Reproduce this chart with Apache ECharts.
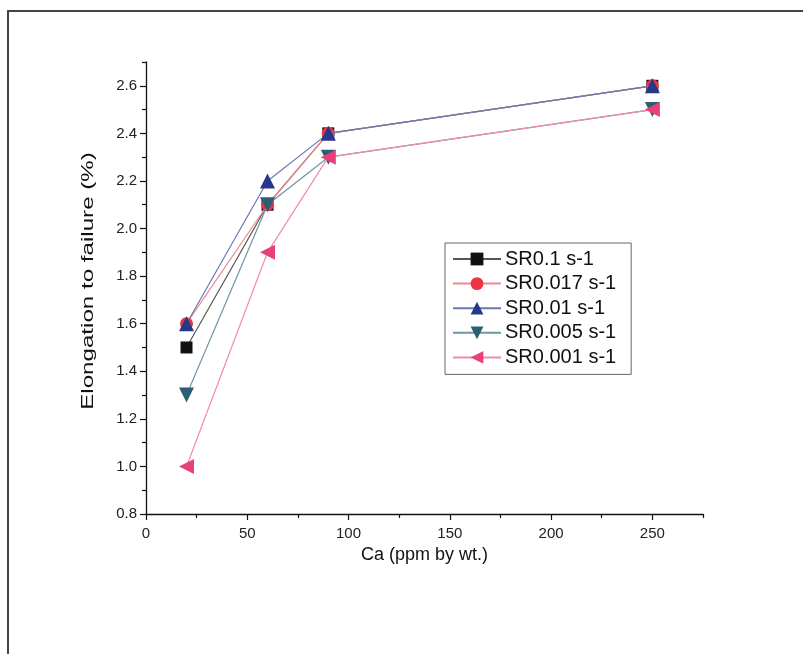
<!DOCTYPE html>
<html>
<head>
<meta charset="utf-8">
<script src="https://cdn.jsdelivr.net/npm/echarts@6/dist/echarts.min.js"></script>
<style>html,body{margin:0;padding:0;background:#fff;}#c{width:803px;height:654px;}</style>
</head>
<body>
<div id="c"></div>
<script>
const caPPM = [20, 60, 90, 250];
const sr01 = [1.5, 2.1, 2.4, 2.6];
const sr0017 = [1.6, 2.1, 2.4, 2.6];
const sr001 = [1.6, 2.2, 2.4, 2.6];
const sr0005 = [1.3, 2.1, 2.3, 2.5];
const sr0001 = [1.0, 1.9, 2.3, 2.5];
const seriesNames = ['SR0.1 s-1', 'SR0.017 s-1', 'SR0.01 s-1', 'SR0.005 s-1', 'SR0.001 s-1'];
const xMajorTicks = [0, 50, 100, 150, 200, 250];
const xMinorTicks = [25, 75, 125, 175, 225, 275];
const yMajorTicks = [0.8, 1.0, 1.2, 1.4, 1.6, 1.8, 2.0, 2.2, 2.4, 2.6];
const yMinorTicks = [0.9, 1.1, 1.3, 1.5, 1.7, 1.9, 2.1, 2.3, 2.5, 2.7];
const xTitle = 'Ca (ppm by wt.)';
const yTitle = 'Elongation to failure (%)';

const font = 'Liberation Sans, Arial, sans-serif';
const pair = vals => caPPM.map((x, i) => [x, vals[i]]);

const styles = [
  {data: sr01, symbol: 'rect', size: 12, color: '#111111', line: '#555555'},
  {data: sr0017, symbol: 'circle', size: 13, color: '#ee3344', line: '#f08890'},
  {data: sr001, symbol: 'triangle', size: 15, color: '#27378a', line: '#6a78b0'},
  {data: sr0005, symbol: 'path://M0,0 L10,0 L5,9 Z', size: 15, color: '#2a5f74', line: '#6f95a5'},
  {data: sr0001, symbol: 'path://M0,5 L9,0 L9,10 Z', size: 15, color: '#e8407a', line: '#f28aae'}
];

const chart = echarts.init(document.getElementById('c'), null, {renderer: 'canvas'});
chart.setOption({
  backgroundColor: '#ffffff',
  animation: false,
  graphic: [{
    type: 'polyline',
    shape: {points: [[8, 654], [8, 11], [803, 11]]},
    style: {stroke: '#444', lineWidth: 2, fill: null}
  }, {
    type: 'text',
    x: 88, y: 281,
    rotation: Math.PI / 2,
    scaleX: 1.42,
    style: {text: yTitle, font: '17px ' + font, fill: '#111', align: 'center', verticalAlign: 'middle'}
  }],
  grid: {left: 146, right: 100, top: 62, bottom: 140, containLabel: false},
  legend: {
    orient: 'vertical',
    left: 445, top: 243,
    padding: [6, 15, 7, 7],
    borderColor: '#666', borderWidth: 1,
    itemWidth: 48, itemHeight: 16, itemGap: 4.6,
    textStyle: {fontFamily: font, fontSize: 20, color: '#111', padding: [0, 0, 0, -1]},
    data: seriesNames
  },
  xAxis: [{
    type: 'value', min: 0, max: 275,
    name: xTitle, nameLocation: 'middle', nameGap: 23,
    nameTextStyle: {fontFamily: font, fontSize: 18, color: '#111'},
    axisLine: {show: true, onZero: false, lineStyle: {color: '#111', width: 1.3}},
    axisTick: {show: true, customValues: xMajorTicks, length: 6, inside: false, lineStyle: {color: '#111', width: 1.2}},
    axisLabel: {customValues: xMajorTicks, fontFamily: font, fontSize: 15, color: '#222', margin: 12},
    splitLine: {show: false}
  }, {
    type: 'value', min: 0, max: 275, position: 'bottom',
    axisLine: {show: false},
    axisTick: {show: true, customValues: xMinorTicks, length: 4, lineStyle: {color: '#111', width: 1.2}},
    axisLabel: {show: false},
    splitLine: {show: false}
  }],
  yAxis: [{
    type: 'value', min: 0.8, max: 2.7,
    axisLine: {show: true, onZero: false, lineStyle: {color: '#111', width: 1.3}},
    axisTick: {show: true, customValues: yMajorTicks, length: 6, lineStyle: {color: '#111', width: 1.2}},
    axisLabel: {customValues: yMajorTicks, formatter: v => v.toFixed(1), fontFamily: font, fontSize: 15, color: '#222', margin: 9},
    splitLine: {show: false}
  }, {
    type: 'value', min: 0.8, max: 2.7, position: 'left',
    axisLine: {show: false},
    axisTick: {show: true, customValues: yMinorTicks, length: 4, lineStyle: {color: '#111', width: 1.2}},
    axisLabel: {show: false},
    splitLine: {show: false}
  }],
  series: styles.map((s, i) => ({
    name: seriesNames[i],
    type: 'line',
    data: pair(s.data),
    symbol: s.symbol,
    symbolSize: s.size,
    showAllSymbol: true,
    itemStyle: {color: s.color, borderWidth: 0},
    lineStyle: {color: s.line, width: 1.2},
    z: 2 + i
  }))
});
</script>
</body>
</html>
